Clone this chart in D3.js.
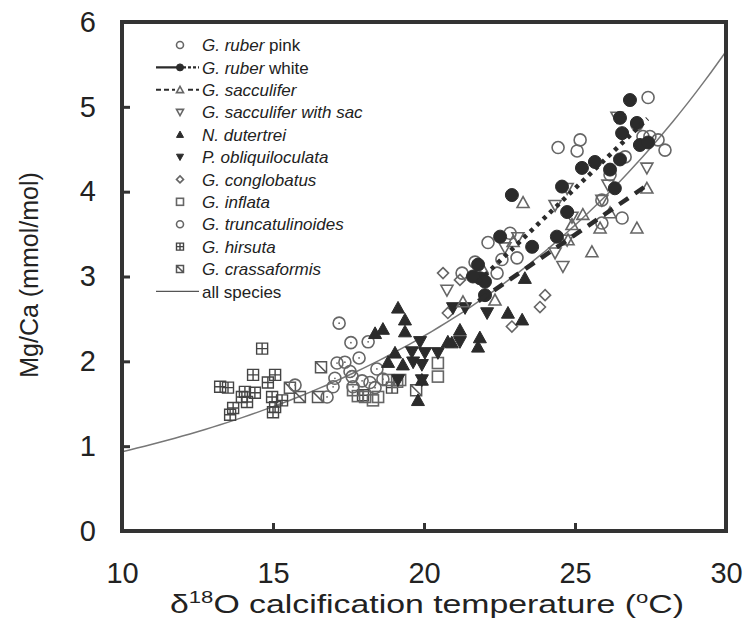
<!DOCTYPE html>
<html><head><meta charset="utf-8">
<script src="https://cdn.jsdelivr.net/npm/d3@7"></script>
<style>body{margin:0;background:#fff}svg{display:block}text{font-family:"Liberation Sans",Arial,Helvetica,sans-serif}</style>
</head><body><script>
// ---- data: [temperature (°C), Mg/Ca (mmol/mol)] ----
const xTicks=[10,15,20,25,30];
const yTicks=[0,1,2,3,4,5,6];
const ruberPink=[[27.42,5.11],[25.17,4.61],[24.44,4.52],[25.07,4.48],[27.25,4.65],[27.48,4.65],[27.75,4.61],[27.98,4.49],[27.05,4.79],[26.66,4.41],[26.16,4.20],[25.89,3.90],[25.89,3.63],[26.56,3.69],[22.85,3.51],[22.12,3.40],[22.58,3.20],[23.08,3.22],[22.42,3.04],[21.26,3.04],[21.69,3.17]];
const ruberWhite=[[26.82,5.08],[26.49,4.87],[27.05,4.81],[26.56,4.69],[27.15,4.55],[27.42,4.58],[26.49,4.38],[25.66,4.35],[25.23,4.28],[26.16,4.26],[24.57,4.06],[26.32,4.04],[22.91,3.96],[24.74,3.76],[24.40,3.47],[23.58,3.35],[22.52,3.47],[21.79,3.14],[21.85,2.98],[21.62,3.00],[22.02,2.94],[22.02,2.78]];
const sacculifer=[[23.28,3.87],[27.38,4.04],[27.05,3.57],[25.56,3.29],[25.26,3.73],[26.16,3.75],[25.83,3.57],[22.35,2.72],[21.29,2.70],[21.92,3.10],[22.95,3.41],[24.90,3.61],[24.77,3.43]];
const sacculiferSac=[[27.38,4.28],[26.09,4.08],[25.89,3.90],[24.34,3.84],[24.90,3.70],[24.34,3.28],[24.60,3.12],[24.74,3.43],[22.68,3.34],[23.11,3.46],[20.76,2.84],[24.74,4.04],[26.39,4.88]];
const dutertrei=[[19.14,2.63],[19.37,2.49],[19.37,2.35],[18.38,2.33],[18.64,2.38],[19.04,2.10],[18.81,1.99],[19.30,1.96],[19.80,1.54],[19.93,1.78],[20.79,2.23],[21.19,2.37],[20.92,2.22],[21.85,2.28],[21.79,2.17],[22.78,2.57],[23.25,2.49],[23.34,2.98]];
const obliquiloculata=[[19.87,2.23],[19.60,2.11],[20.03,2.10],[20.46,2.10],[19.64,1.99],[19.93,1.96],[19.14,1.78],[19.93,1.78],[20.96,2.63],[21.36,2.63],[22.09,2.57],[21.19,2.23]];
const conglobatus=[[20.63,3.04],[21.19,2.96],[20.79,2.57],[24.01,2.78],[23.84,2.64],[22.91,2.41]];
const inflata=[[20.46,1.98],[20.46,1.82],[19.21,1.78],[17.65,1.66],[17.81,1.59],[18.05,1.58],[18.31,1.54],[18.48,1.58],[19.11,1.76],[18.81,1.78]];
const truncatulinoides=[[17.19,2.45],[17.58,2.22],[18.15,2.23],[17.85,2.04],[18.44,1.91],[17.12,1.98],[17.38,1.99],[17.55,1.88],[17.05,1.80],[17.62,1.82],[17.95,1.77],[18.21,1.75],[18.64,1.79],[16.99,1.70],[17.65,1.70],[18.38,1.69],[16.79,1.58],[15.73,1.72]];
const hirsuta=[[14.64,2.15],[14.34,1.84],[15.07,1.84],[14.83,1.75],[13.25,1.70],[13.51,1.69],[14.07,1.64],[14.40,1.63],[13.97,1.58],[14.97,1.58],[14.14,1.52],[15.30,1.54],[15.07,1.46],[13.68,1.45],[13.58,1.37],[15.00,1.40],[18.94,1.69],[17.98,1.60]];
const crassaformis=[[15.56,1.69],[15.89,1.58],[16.49,1.58],[16.59,1.93],[19.74,1.66]];
// regression lines
const ruberWhiteFit=[[21.8,2.94],[27.4,4.86]];
const sacculiferFit=[[21.8,2.71],[27.4,4.08]];
const allSpeciesA=0.38, allSpeciesB=0.09; // Mg/Ca = A·exp(B·T)
const allSpeciesT=d3.range(10,30.01,0.25);

const W=743,H=620;
const svg=d3.select("body").append("svg").attr("width",W).attr("height",H);
const x=d3.scaleLinear().domain([10,30]).range([122,726]);
const y=d3.scaleLinear().domain([0,6]).range([531,22]);

const GREY="#666", DARK="#2b2b2b";
function sym(g,type,cx,cy,s){
  const h=s/2;
  const open={fill:"none",stroke:GREY,"stroke-width":1.6};
  const fill={fill:DARK,stroke:DARK,"stroke-width":1};
  const apply=(e,st)=>{for(const k in st)e.attr(k,st[k]);return e;};
  switch(type){
    case "circle": apply(g.append("circle").attr("cx",cx).attr("cy",cy).attr("r",h),open);break;
    case "circleDot": apply(g.append("circle").attr("cx",cx).attr("cy",cy).attr("r",h),open);
      g.append("circle").attr("cx",cx).attr("cy",cy).attr("r",0.9).attr("fill",GREY);break;
    case "disc": apply(g.append("circle").attr("cx",cx).attr("cy",cy).attr("r",h),fill);break;
    case "tri": apply(g.append("path").attr("d",`M${cx},${cy-h}L${cx+h},${cy+h*0.8}L${cx-h},${cy+h*0.8}Z`),open);break;
    case "triDown": apply(g.append("path").attr("d",`M${cx},${cy+h}L${cx+h},${cy-h*0.8}L${cx-h},${cy-h*0.8}Z`),open);break;
    case "triF": apply(g.append("path").attr("d",`M${cx},${cy-h}L${cx+h},${cy+h*0.8}L${cx-h},${cy+h*0.8}Z`),fill);break;
    case "triDownF": apply(g.append("path").attr("d",`M${cx},${cy+h}L${cx+h},${cy-h*0.8}L${cx-h},${cy-h*0.8}Z`),fill);break;
    case "diamond": apply(g.append("path").attr("d",`M${cx},${cy-h}L${cx+h},${cy}L${cx},${cy+h}L${cx-h},${cy}Z`),open);break;
    case "square": apply(g.append("rect").attr("x",cx-h).attr("y",cy-h).attr("width",s).attr("height",s),open);break;
    case "squarePlus": apply(g.append("path").attr("d",`M${cx-h},${cy-h}h${s}v${s}h${-s}ZM${cx},${cy-h}v${s}M${cx-h},${cy}h${s}`),{fill:"none",stroke:"#444","stroke-width":1.4});break;
    case "squareX": apply(g.append("path").attr("d",`M${cx-h},${cy-h}h${s}v${s}h${-s}ZM${cx-h},${cy-h}L${cx+h},${cy+h}`),{fill:"none",stroke:"#555","stroke-width":1.5});break;
  }
}

const series=[
  {d:hirsuta,t:"squarePlus",s:11},
  {d:crassaformis,t:"squareX",s:11},
  {d:inflata,t:"square",s:11},
  {d:truncatulinoides,t:"circleDot",s:12},
  {d:conglobatus,t:"diamond",s:11},
  {d:dutertrei,t:"triF",s:13},
  {d:obliquiloculata,t:"triDownF",s:13},
  {d:ruberPink,t:"circle",s:12},
  {d:sacculifer,t:"tri",s:12},
  {d:sacculiferSac,t:"triDown",s:12},
  {d:ruberWhite,t:"disc",s:13},
];
svg.append("clipPath").attr("id","pc").append("rect").attr("x",122).attr("y",22).attr("width",604).attr("height",509);
const plot=svg.append("g").attr("clip-path","url(#pc)");

// all species curve
const line=d3.line().x(d=>x(d[0])).y(d=>y(d[1]));
plot.append("path").datum(allSpeciesT.map(t=>[t,allSpeciesA*Math.exp(allSpeciesB*t)]))
  .attr("d",line).attr("fill","none").attr("stroke","#777").attr("stroke-width",1.5);

const pts=plot.append("g");
series.forEach(sr=>sr.d.forEach(p=>sym(pts,sr.t,x(p[0]),y(p[1]),sr.s)));

// fits
plot.append("path").datum(sacculiferFit).attr("d",line).attr("fill","none").attr("stroke",DARK)
  .attr("stroke-width",4.5).attr("stroke-dasharray","11,8");
plot.append("path").datum(ruberWhiteFit).attr("d",line).attr("fill","none").attr("stroke",DARK)
  .attr("stroke-width",4.5).attr("stroke-dasharray","4,5");

// axes
const ax=svg.append("g").attr("transform","translate(0,531)")
  .call(d3.axisBottom(x).tickValues(xTicks).tickSize(-8).tickPadding(31).tickFormat(d3.format("d")));
const ay=svg.append("g").attr("transform","translate(122,0)")
  .call(d3.axisLeft(y).tickValues(yTicks).tickSize(-8).tickPadding(26).tickFormat(d3.format("d")));
[ax,ay].forEach(a=>{a.select(".domain").remove();
  a.selectAll(".tick line").attr("stroke","#333").attr("stroke-width",3);
  a.selectAll(".tick text").attr("fill","#222").style("font-size","29px").style("font-family","'Liberation Sans',Arial,sans-serif");});
svg.append("rect").attr("x",122).attr("y",22).attr("width",604).attr("height",509)
  .attr("fill","none").attr("stroke","#333").attr("stroke-width",4);

// axis titles
svg.append("text").attr("transform","translate(38,275) rotate(-90)").attr("text-anchor","middle")
  .style("font-size","25px").attr("fill","#222").text("Mg/Ca (mmol/mol)");
const xt=svg.append("text").attr("x",427).attr("y",613).attr("text-anchor","middle").style("font-size","26px").attr("fill","#222")
  .attr("textLength",514).attr("lengthAdjust","spacingAndGlyphs");
xt.append("tspan").text("δ");
xt.append("tspan").attr("dy",-10).style("font-size","17px").text("18");
xt.append("tspan").attr("dy",10).text("O calcification temperature (");
xt.append("tspan").attr("dy",-10).style("font-size","17px").text("o");
xt.append("tspan").attr("dy",10).text("C)");

// legend
const legend=[
  {it:"G. ruber",rg:" pink",t:"circle"},
  {it:"G. ruber",rg:" white",t:"disc",ln:"rw"},
  {it:"G. sacculifer",rg:"",t:"tri",ln:"sa"},
  {it:"G. sacculifer with sac",rg:"",t:"triDown"},
  {it:"N. dutertrei",rg:"",t:"triF"},
  {it:"P. obliquiloculata",rg:"",t:"triDownF"},
  {it:"G. conglobatus",rg:"",t:"diamond"},
  {it:"G. inflata",rg:"",t:"square"},
  {it:"G. truncatulinoides",rg:"",t:"circle"},
  {it:"G. hirsuta",rg:"",t:"squarePlus"},
  {it:"G. crassaformis",rg:"",t:"squareX"},
  {it:"",rg:"all species",t:null,ln:"all"},
];
const lg=svg.append("g");
legend.forEach((e,i)=>{
  const cy=45+i*22.4, cx=180;
  if(e.ln==="rw"){lg.append("line").attr("x1",156).attr("x2",199).attr("y1",cy).attr("y2",cy).attr("stroke",DARK).attr("stroke-width",2.2).attr("stroke-dasharray","22,0,3,2,3,2,3,2,3,2");}
  if(e.ln==="sa"){lg.append("line").attr("x1",156).attr("x2",199).attr("y1",cy).attr("y2",cy).attr("stroke",DARK).attr("stroke-width",2).attr("stroke-dasharray","5,3");
    lg.append("rect").attr("x",175).attr("y",cy-5).attr("width",10).attr("height",10).attr("fill","#fff");}
  if(e.ln==="all"){lg.append("line").attr("x1",156).attr("x2",199).attr("y1",cy).attr("y2",cy).attr("stroke","#555").attr("stroke-width",1.2);}
  if(e.t) sym(lg,e.t,cx,cy,7);
  const tx=lg.append("text").attr("x",202).attr("y",cy).attr("dy","0.36em").style("font-size","17px").attr("fill","#222");
  if(e.it) tx.append("tspan").style("font-style","italic").text(e.it);
  if(e.rg) tx.append("tspan").text(e.rg);
});
</script></body></html>
